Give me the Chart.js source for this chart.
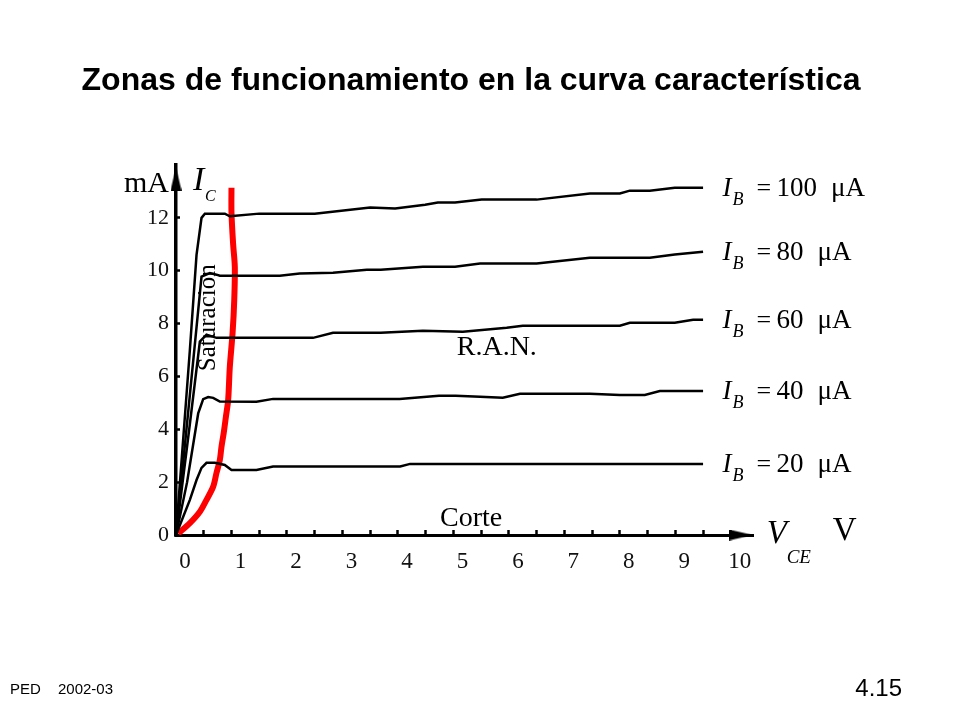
<!DOCTYPE html>
<html>
<head>
<meta charset="utf-8">
<script src="https://cdn.jsdelivr.net/npm/chart.js"></script>
<style>
  html, body { margin: 0; padding: 0; background: #fff; }
  #wrap { width: 960px; height: 720px; }
</style>
</head>
<body>
<div id="wrap"><canvas id="myChart"></canvas></div>
<script>
// curvas características IC(VCE) para cada IB
var ib20V = [0, 0.25, 0.37, 0.46, 0.55, 0.7, 0.88, 1.0, 1.45, 1.75, 4.04, 4.22, 9.5];
var ib20I = [0, 1.33, 2.08, 2.54, 2.73, 2.73, 2.65, 2.46, 2.46, 2.59, 2.59, 2.69, 2.69];

var ib40V = [0, 0.2, 0.4, 0.49, 0.58, 0.67, 0.79, 1.45, 1.75, 4.03, 4.74, 5.04, 5.48, 5.89, 6.2, 7.46, 8.0, 8.45, 8.72, 9.5];
var ib40I = [0, 2.0, 4.6, 5.14, 5.22, 5.19, 5.05, 5.04, 5.15, 5.15, 5.27, 5.27, 5.23, 5.19, 5.34, 5.34, 5.30, 5.30, 5.45, 5.45];

var ib60V = [0, 0.25, 0.43, 0.55, 0.73, 2.47, 2.83, 3.69, 4.45, 5.17, 5.96, 6.25, 8.0, 8.18, 8.99, 9.32, 9.5];
var ib60I = [0, 4.2, 7.32, 7.58, 7.46, 7.46, 7.65, 7.65, 7.73, 7.69, 7.84, 7.92, 7.92, 8.03, 8.03, 8.14, 8.14];

var ib80V = [0, 0.25, 0.46, 0.61, 0.73, 0.79, 1.87, 2.23, 2.83, 3.44, 3.69, 4.45, 5.03, 5.48, 6.5, 7.46, 8.54, 8.99, 9.5];
var ib80I = [0, 5.3, 9.78, 9.91, 9.85, 9.81, 9.81, 9.89, 9.92, 10.04, 10.04, 10.15, 10.15, 10.27, 10.27, 10.49, 10.49, 10.61, 10.72];

var ib100V = [0, 0.25, 0.37, 0.46, 0.52, 0.88, 0.97, 1.5, 2.5, 3.5, 3.95, 4.49, 4.72, 5.03, 5.51, 6.5, 7.46, 8.0, 8.18, 8.54, 8.99, 9.5];
var ib100I = [0, 7.0, 10.6, 12.0, 12.16, 12.16, 12.06, 12.16, 12.16, 12.39, 12.35, 12.5, 12.58, 12.58, 12.69, 12.69, 12.92, 12.92, 13.03, 13.03, 13.14, 13.14];

// frontera de saturacion (linea roja)
var satV = [0.04, 0.25, 0.43, 0.55, 0.67, 0.73, 0.79, 0.82, 0.86, 0.9, 0.94, 0.97, 1.02, 1.05, 1.06, 1.03, 1.0, 1.0];
var satI = [0.06, 0.45, 0.88, 1.33, 1.83, 2.35, 2.84, 3.34, 3.86, 4.48, 5.11, 6.36, 7.65, 8.9, 10.15, 11.0, 12.2, 13.14];

var ibLabels = ["20", "40", "60", "80", "100"];
var xTickLabels = [0, 1, 2, 3, 4, 5, 6, 7, 8, 9, 10];
var yTickLabels = [0, 2, 4, 6, 8, 10, 12];

function toPoints(xs, ys) {
    return xs.map(function(v, i){ return {x: v, y: ys[i]}; });
}

// punta de flecha para los ejes
var arrow = document.createElement('canvas');
arrow.width = 11; arrow.height = 24;
var actx = arrow.getContext('2d');
actx.fillStyle = '#000';
actx.beginPath();
actx.moveTo(5.5, 0); actx.lineTo(11, 24); actx.lineTo(0, 24);
actx.closePath(); actx.fill();

var series = [ib20V, ib40V, ib60V, ib80V, ib100V];
var seriesI = [ib20I, ib40I, ib60I, ib80I, ib100I];

var datasets = series.map(function(xs, k){
    return {
        label: "IB = " + ibLabels[k] + " µA",
        data: toPoints(xs, seriesI[k]),
        borderColor: "#000",
        borderWidth: 2.5,
        pointRadius: 0,
        tension: 0,
        fill: false
    };
});
datasets.push({
    label: "Saturacion",
    data: toPoints(satV, satI),
    borderColor: "#ff0000",
    borderWidth: 6,
    pointRadius: 0,
    tension: 0.3,
    borderCapStyle: "butt",
    fill: false
});
datasets.push({
    label: "ejes",
    data: [{x: 0, y: 13.48}, {x: 10.18, y: 0}],
    pointStyle: arrow,
    rotation: [0, 90],
    pointRadius: 10,
    showLine: false,
    clip: false
});

var serif = '"Liberation Serif", "Times New Roman", serif';
var sans = '"Liberation Sans", Arial, sans-serif';

function txt(ctx, s, x, y, font, align) {
    ctx.font = font;
    ctx.textAlign = align || 'left';
    ctx.textBaseline = 'alphabetic';
    ctx.fillText(s, x, y);
    return ctx.measureText(s).width;
}

var textPlugin = {
    id: 'textos',
    afterDraw: function(chart) {
        var ctx = chart.ctx, a = chart.chartArea;
        var x = chart.scales.x, y = chart.scales.y;
        ctx.save();
        ctx.fillStyle = '#000';

        txt(ctx, "Zonas de funcionamiento en la curva característica", 471, 90, 'bold 32px ' + sans, 'center');

        // ejes
        txt(ctx, "mA", a.left - 7, 192, '30px ' + serif, 'right');
        txt(ctx, "I", a.left + 17, 190, 'italic 34px ' + serif);
        txt(ctx, "C", a.left + 29, 201, 'italic 16px ' + serif);
        var vx = x.getPixelForValue(10.7), vy = y.getPixelForValue(0);
        txt(ctx, "V", vx - 3, vy + 8, 'italic 33px ' + serif);
        txt(ctx, "CE", vx + 17, vy + 28, 'italic 19px ' + serif);
        txt(ctx, "V", vx + 63, vy + 5, '33px ' + serif);

        // etiquetas de IB al final de cada curva
        seriesI.forEach(function(ys, k){
            var px = x.getPixelForValue(9.85);
            var py = y.getPixelForValue(ys[ys.length - 1]);
            txt(ctx, "I", px, py + 8, 'italic 27px ' + serif);
            txt(ctx, "B", px + 10, py + 17, 'italic 18px ' + serif);
            txt(ctx, "=", px + 34, py + 8, '26px ' + serif);
            var w = txt(ctx, ibLabels[k], px + 54, py + 8, '27px ' + serif);
            txt(ctx, "μA", px + 54 + w + 14, py + 8, '27px ' + serif);
        });

        // zonas
        txt(ctx, "R.A.N.", x.getPixelForValue(5.06), y.getPixelForValue(6.82), '28px ' + serif);
        txt(ctx, "Corte", x.getPixelForValue(4.76), y.getPixelForValue(0.34), '28px ' + serif);
        ctx.save();
        ctx.translate(x.getPixelForValue(0.58), y.getPixelForValue(8.22));
        ctx.rotate(-Math.PI / 2);
        ctx.font = '25px ' + serif;
        ctx.textAlign = 'center';
        ctx.textBaseline = 'middle';
        ctx.fillText("Saturacion", 0, 0);
        ctx.restore();

        // pie
        txt(ctx, "PED", 10, 694, '15px ' + sans);
        txt(ctx, "2002-03", 58, 694, '15px ' + sans);
        txt(ctx, "4.15", 902, 696, '24px ' + sans, 'right');
        ctx.restore();
    }
};

// marcas cada 0.5 V, etiqueta en cada voltio
function xTicks() {
    var t = [];
    xTickLabels.forEach(function(v){
        t.push({value: v});
        if (v < 10) t.push({value: v + 0.5});
    });
    return t;
}

new Chart("myChart", {
    type: "line",
    data: { datasets: datasets },
    options: {
        responsive: true,
        maintainAspectRatio: false,
        animation: false,
        layout: { padding: { left: 136, right: 207, top: 165, bottom: 140 } },
        plugins: {
            legend: { display: false },
            title: { display: false },
            tooltip: { enabled: false }
        },
        scales: {
            x: {
                type: "linear",
                min: 0,
                max: 10.4,
                afterFit: function(s){ s.height = 45; },
                afterBuildTicks: function(s){ s.ticks = xTicks(); },
                border: { display: true, color: "#000", width: 3 },
                grid: { display: true, drawOnChartArea: false, color: "#000", tickLength: -5, tickWidth: 2.5 },
                ticks: {
                    autoSkip: false,
                    maxRotation: 0,
                    labelOffset: 9,
                    padding: 18,
                    color: "#111",
                    font: { family: serif, size: 23 },
                    callback: function(v){ return xTickLabels.indexOf(v) >= 0 ? String(v) : ""; }
                }
            },
            y: {
                type: "linear",
                min: 0,
                max: 14,
                afterFit: function(s){ s.width = 40; },
                afterBuildTicks: function(s){
                    s.ticks = yTickLabels.map(function(v){ return {value: v}; });
                },
                border: { display: true, color: "#000", width: 3.5 },
                grid: { display: true, drawOnChartArea: false, color: "#000", tickLength: -4, tickWidth: 2.5 },
                ticks: {
                    padding: 11,
                    color: "#111",
                    font: { family: serif, size: 22 },
                    callback: function(v){ return yTickLabels.indexOf(v) >= 0 ? String(v) : ""; }
                }
            }
        }
    },
    plugins: [textPlugin]
});
</script>
</body>
</html>
